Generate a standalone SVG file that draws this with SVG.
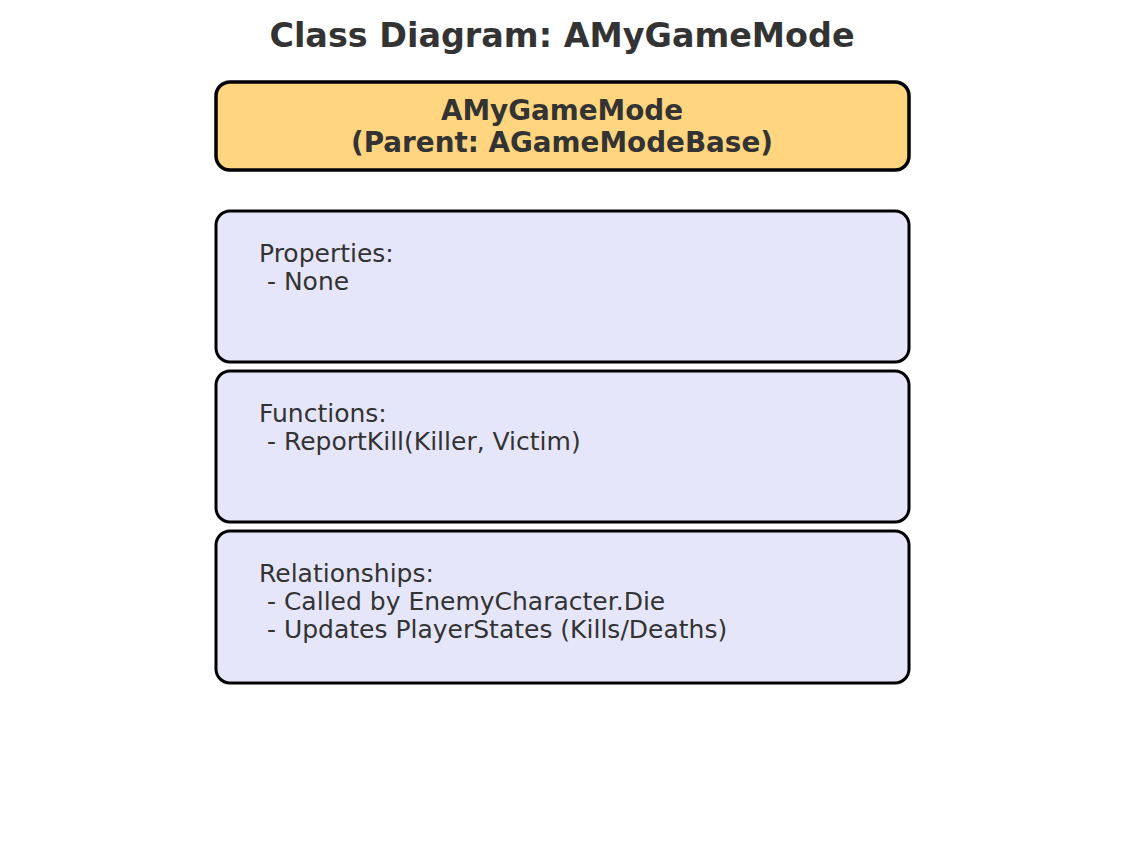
<svg xmlns="http://www.w3.org/2000/svg" width="1124" height="852" viewBox="0 0 1124 852">
<style>
.t{font-family:"DejaVu Sans",sans-serif;fill:#333333}
.title{font-size:33.4px;font-weight:bold}
.hdr{fill:#FFD580;stroke:#000;stroke-width:3.5}
.box{fill:#E6E6FA;stroke:#000;stroke-width:3}
.ht{font-size:27.8px;font-weight:bold}
.bt{font-size:25px}
</style>
<rect width="1124" height="852" fill="#ffffff"/>
<text class="t title" x="562" y="47" text-anchor="middle">Class Diagram: AMyGameMode</text>
<g id="header">
<rect class="hdr" x="216" y="82" width="693" height="88" rx="14"/>
<text class="t ht" x="562" y="120" text-anchor="middle">AMyGameMode</text>
<text class="t ht" x="562" y="152" text-anchor="middle">(Parent: AGameModeBase)</text>
</g>
<g id="properties">
<rect class="box" x="216" y="211" width="693" height="151" rx="14"/>
<text class="t bt" x="259" y="262" xml:space="preserve">Properties:</text>
<text class="t bt" x="259" y="290" xml:space="preserve"> - None</text>
</g>
<g id="functions">
<rect class="box" x="216" y="371" width="693" height="151" rx="14"/>
<text class="t bt" x="259" y="422" xml:space="preserve">Functions:</text>
<text class="t bt" x="259" y="450" xml:space="preserve"> - ReportKill(Killer, Victim)</text>
</g>
<g id="relationships">
<rect class="box" x="216" y="531" width="693" height="152" rx="14"/>
<text class="t bt" x="259" y="582" xml:space="preserve">Relationships:</text>
<text class="t bt" x="259" y="610" xml:space="preserve"> - Called by EnemyCharacter.Die</text>
<text class="t bt" x="259" y="638" xml:space="preserve"> - Updates PlayerStates (Kills/Deaths)</text>
</g>
<g id="connectors"></g>
</svg>
